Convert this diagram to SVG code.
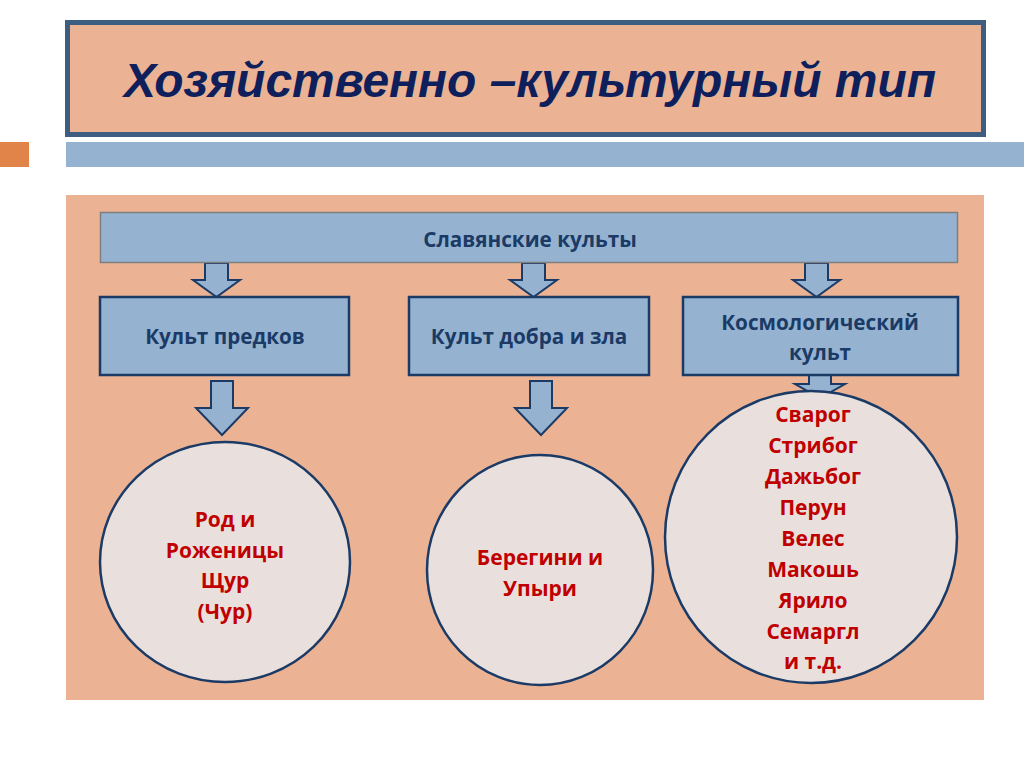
<svg xmlns="http://www.w3.org/2000/svg" width="1024" height="767" viewBox="0 0 1024 767">
<defs>
<style>
.box{fill:#95B3D0;stroke:#1B3A66;stroke-width:2.5}
.arrow{fill:#95B3D0;stroke:#1B3A66;stroke-width:2;stroke-linejoin:miter}
.circ{fill:#E9E0DD;stroke:#1B3A66;stroke-width:2.5}
.lbl{font-family:"Open Sans","Noto Sans",sans-serif;font-weight:bold;font-size:20.7px;fill:#1B3A66;text-anchor:middle}
.red{font-family:"Open Sans","Noto Sans",sans-serif;font-weight:bold;font-size:21px;fill:#C00000;text-anchor:middle}
</style>
</defs>
<rect width="1024" height="767" fill="#FFFFFF"/>
<g id="title">
<rect x="67.5" y="22.5" width="916" height="112" fill="#EBB394" stroke="#3D5E80" stroke-width="5"/>
<text x="530" y="97" font-family="Liberation Sans, Arial, sans-serif" font-weight="bold" font-style="italic" font-size="48" fill="#0F1F5C" text-anchor="middle" textLength="812" lengthAdjust="spacingAndGlyphs">Хозяйственно –культурный тип</text>
</g>
<g id="bars">
<rect x="0" y="142" width="29" height="25" fill="#E0844A"/>
<rect x="66" y="142" width="958" height="25" fill="#95B3D0"/>
</g>
<rect id="panel" x="66" y="195" width="918" height="505" fill="#EBB394"/>
<g id="connectors">
<polygon class="arrow" points="205,263 228,263 228,280 240,280 216.5,297 193,280 205,280"/>
<polygon class="arrow" points="522,263 545,263 545,280 557,280 533.5,297 510,280 522,280"/>
<polygon class="arrow" points="805,263 828,263 828,280 840,280 816.5,297 793,280 805,280"/>
<polygon class="arrow" points="211,381 233,381 233,408 248,408 222,435 196,408 211,408"/>
<polygon class="arrow" points="530,381 552,381 552,408 567,408 541,435 515,408 530,408"/>
<polygon class="arrow" points="809,375 831,375 831,384 845,384 820,398 795,384 809,384"/>
</g>
<g id="n-slav">
<rect x="100.5" y="212.5" width="857" height="50" fill="#95B3D0" stroke="#7F7F7F" stroke-width="1.5"/>
<text class="lbl" x="530" y="247">Славянские культы</text>
</g>
<g id="n-predki">
<rect class="box" x="100" y="297" width="249" height="78"/>
<text class="lbl" x="225" y="344">Культ предков</text>
</g>
<g id="n-dobro">
<rect class="box" x="409" y="297" width="240" height="78"/>
<text class="lbl" x="529" y="344">Культ добра и зла</text>
</g>
<g id="n-kosmo">
<rect class="box" x="683" y="297" width="275" height="78"/>
<text class="lbl" x="820" y="330">Космологический</text>
<text class="lbl" x="820" y="360">культ</text>
</g>
<g id="c-rod">
<ellipse class="circ" cx="225" cy="562" rx="125" ry="120"/>
<text class="red" x="225" y="527">Род и</text>
<text class="red" x="225" y="558">Роженицы</text>
<text class="red" x="225" y="588">Щур</text>
<text class="red" x="225" y="619">(Чур)</text>
</g>
<g id="c-bereg">
<ellipse class="circ" cx="540" cy="570" rx="113" ry="115"/>
<text class="red" x="540" y="565">Берегини и</text>
<text class="red" x="540" y="596">Упыри</text>
</g>
<g id="c-gods">
<ellipse class="circ" cx="811" cy="537" rx="146" ry="146"/>
<text class="red" x="813" y="422">Сварог</text>
<text class="red" x="813" y="453">Стрибог</text>
<text class="red" x="813" y="484">Дажьбог</text>
<text class="red" x="813" y="515">Перун</text>
<text class="red" x="813" y="546">Велес</text>
<text class="red" x="813" y="577">Макошь</text>
<text class="red" x="813" y="608">Ярило</text>
<text class="red" x="813" y="639">Семаргл</text>
<text class="red" x="813" y="669">и т.д.</text>
</g>
</svg>
